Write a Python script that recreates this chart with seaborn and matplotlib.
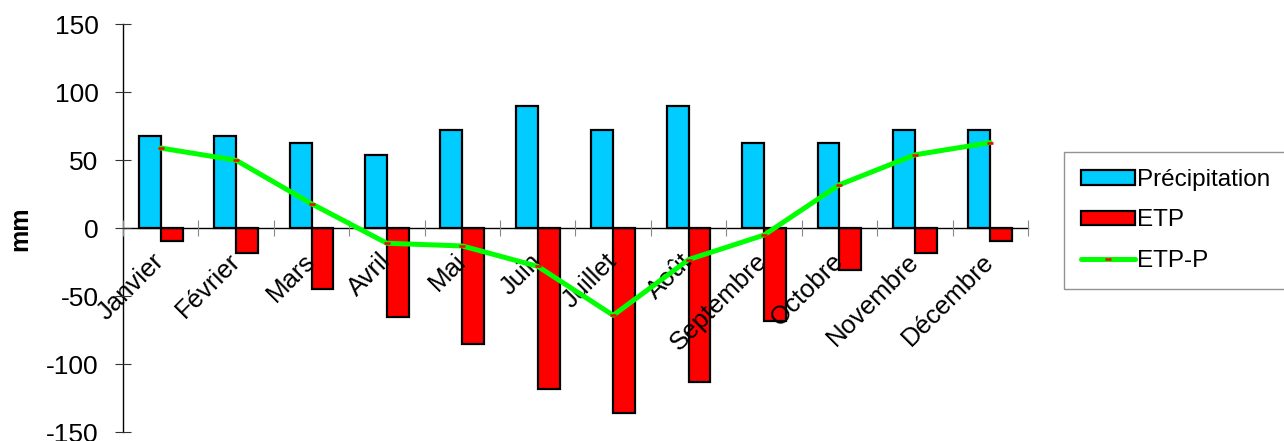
import matplotlib
matplotlib.use("Agg")
import matplotlib.pyplot as plt
import seaborn as sns
import pandas as pd
import numpy as np
from matplotlib.patches import Patch
from matplotlib.lines import Line2D
from matplotlib.ticker import FixedLocator

months = ["Janvier", "Février", "Mars", "Avril", "Mai", "Juin", "Juillet",
          "Août", "Septembre", "Octobre", "Novembre", "Décembre"]
precipitation = [68, 68, 63, 54, 72, 90, 72, 90, 63, 63, 72, 72]
etp = [-9, -18, -45, -65, -85, -118, -136, -113, -68, -31, -18, -9]
etp_p = [59, 50, 18, -11, -13, -28, -64, -23, -5, 32, 54, 63]
y_ticks = [-150, -100, -50, 0, 50, 100, 150]

sns.set_theme(style="white")
plt.rcParams['font.family'] = ['Liberation Sans', 'DejaVu Sans']
plt.rcParams['axes.unicode_minus'] = False
plt.rcParams['text.color'] = 'black'
plt.rcParams['axes.labelcolor'] = 'black'
plt.rcParams['xtick.color'] = 'black'
plt.rcParams['ytick.color'] = 'black'

df = pd.DataFrame({
    "Mois": months * 2,
    "mm": precipitation + etp,
    "Série": ["Précipitation"] * 12 + ["ETP"] * 12,
})

fig = plt.figure(figsize=(12.84, 4.41), dpi=100)
ax = fig.add_axes([0.0958, 0.0197, 0.7048, 0.9253])

colors = {"Précipitation": "#00CCFF", "ETP": "#FF0000"}
sns.barplot(data=df, x="Mois", y="mm", hue="Série", order=months,
            hue_order=["Précipitation", "ETP"], palette=colors, saturation=1,
            width=0.58, gap=0, edgecolor="black", linewidth=1.6,
            errorbar=None, legend=False, ax=ax)
ax.set_axisbelow(False)

x = np.arange(len(months))
ax.plot(x, etp_p, color="#00FF00", linewidth=3.6, zorder=5, solid_capstyle="round")
ax.plot(x, etp_p, linestyle="none", marker="_", markersize=4, markeredgewidth=1.8,
        color="#FF0000", zorder=6)

ax.set_xlim(-0.5, len(months) - 0.5)
ax.set_ylim(-150, 150)
ax.yaxis.set_major_locator(FixedLocator(y_ticks))

for s in ["top", "right"]:
    ax.spines[s].set_visible(False)
ax.spines["bottom"].set_position(("data", 0))
ax.spines["bottom"].set_color("black")
ax.spines["bottom"].set_linewidth(1.0)
ax.spines["left"].set_color("black")
ax.spines["left"].set_linewidth(1.0)

ax.tick_params(axis="y", direction="inout", length=11, width=0.8, color="#333333",
               labelsize=19, labelcolor="black", pad=12, left=True)
ax.set_xticks(x)
ax.set_xticklabels(months, rotation=45, ha="right", va="center",
                   rotation_mode="anchor", fontsize=18.5)
ax.tick_params(axis="x", which="major", length=0, pad=21, labelcolor="black")
ax.set_xticks(np.arange(-0.5, len(months)), minor=True)
ax.tick_params(axis="x", which="minor", direction="inout", length=11, width=0.8,
               color="#888888", bottom=True)

ax.set_xlabel("")
ax.set_ylabel("mm", fontsize=18, fontweight="bold", labelpad=10, color="black")

handles = [
    Patch(facecolor="#00CCFF", edgecolor="black", linewidth=1.6),
    Patch(facecolor="#FF0000", edgecolor="black", linewidth=1.6),
    Line2D([0], [0], color="#00FF00", linewidth=3.6, marker="_", markersize=4,
           markeredgewidth=1.8, markeredgecolor="#FF0000"),
]
leg = fig.legend(handles, ["Précipitation", "ETP", "ETP-P"],
                 loc="center left", bbox_to_anchor=(0.8287, 0.50),
                 fontsize=17.5, frameon=True, fancybox=False, handlelength=2.2,
                 handleheight=0.55, handletextpad=0.1, labelspacing=0.75,
                 borderpad=0.7, borderaxespad=0, labelcolor="black")
leg.get_frame().set_edgecolor("#777777")
leg.get_frame().set_linewidth(1.0)

fig.savefig("out.png", dpi=100)
